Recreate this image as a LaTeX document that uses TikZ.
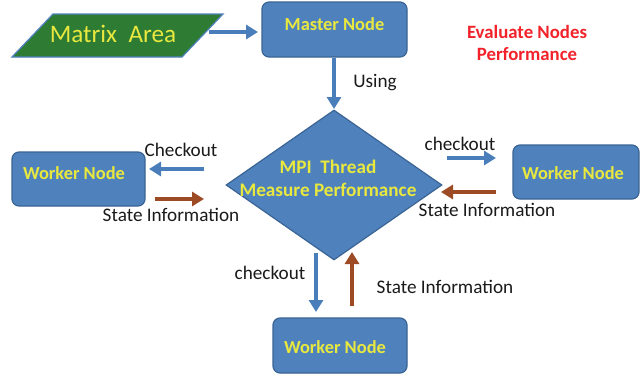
\documentclass[tikz,border=0pt]{standalone}
\usepackage{fontspec}
\setmainfont{Carlito}
\usetikzlibrary{arrows.meta,shapes.geometric}

\definecolor{boxblue}{HTML}{4F81BD}
\definecolor{boxedge}{HTML}{3A6494}
\definecolor{flowblue}{HTML}{4A7EBB}
\definecolor{flowbrown}{HTML}{9C4B25}
\definecolor{areagreen}{HTML}{2E7B34}
\definecolor{nodeyellow}{HTML}{E8E83E}
\definecolor{titlered}{HTML}{F2222A}
\definecolor{labelgray}{HTML}{1A1A1A}

\begin{document}
\begin{tikzpicture}[x=1pt,y=-1pt,
  box/.style={draw=boxedge, line width=1.2pt, fill=boxblue, rounded corners=7pt,
              inner sep=0pt},
  boxtext/.style={font=\fontsize{18.4}{21}\selectfont\bfseries, text=nodeyellow, inner sep=0pt},
  flow/.style={line width=4.6pt, -{Triangle[width=14pt,length=12pt]}},
  blueflow/.style={flow, draw=flowblue},
  brownflow/.style={flow, draw=flowbrown},
  lbl/.style={font=\fontsize{19.2}{22}\selectfont, text=labelgray, inner sep=0pt}]
\useasboundingbox (0,0) rectangle (641,378);

% input area (parallelogram)
\coordinate (pa1) at (53,14);
\coordinate (pa2) at (223,14);
\coordinate (pa3) at (182,57);
\coordinate (pa4) at (12,57);
\draw[fill=areagreen, draw=boxblue, line width=1.2pt, line join=miter]
  (pa1) -- (pa2) -- (pa3) -- (pa4) -- cycle;
\node[font=\fontsize{25.2}{29}\selectfont, text=nodeyellow, inner sep=0pt] (matrix) at (113,34) {Matrix\ \ Area};

% master node
\node[box, minimum width=145pt, minimum height=55pt] (master) at (334.5,29.5) {};
\node[boxtext] (mastertxt) at (334.5,24.5) {Master Node};

% title
\node[font=\fontsize{18.8}{21.5}\selectfont\bfseries, text=titlered, align=center, inner sep=0pt]
  (title) at (527,43) {Evaluate Nodes\\Performance};

% central decision node
\node[diamond, draw=boxedge, line width=1.2pt, fill=boxblue, inner sep=0pt,
      minimum width=216pt, minimum height=150pt] (mpi) at (334,185) {};
\node[boxtext, align=center, font=\fontsize{19.2}{23}\selectfont\bfseries] (mpitxt) at (328,178.5)
  {MPI\ \ Thread\\Measure Performance};

% worker nodes
\node[box, minimum width=133pt, minimum height=54pt] (wleft) at (78.5,179) {};
\node[boxtext] (wlefttxt) at (74,173.5) {Worker Node};
\node[box, minimum width=126pt, minimum height=54pt] (wright) at (576,172) {};
\node[boxtext] (wrighttxt) at (573,173.5) {Worker Node};
\node[box, minimum width=134pt, minimum height=55pt] (wbottom) at (340,345.5) {};
\node[boxtext] (wbottomtxt) at (335,347) {Worker Node};

% arrow end points
\coordinate (ma0) at (209,32);   \coordinate (ma1) at (258,32);
\coordinate (us0) at (334,58);   \coordinate (us1) at (334,109);
\coordinate (lc0) at (204,169);  \coordinate (lc1) at (149,169);
\coordinate (ls0) at (155,199);  \coordinate (ls1) at (204,199);
\coordinate (rc0) at (447,158);  \coordinate (rc1) at (496,158);
\coordinate (rs0) at (496,192);  \coordinate (rs1) at (441,192);
\coordinate (bc0) at (316,253);  \coordinate (bc1) at (316,312);
\coordinate (bs0) at (352,306);  \coordinate (bs1) at (352,252);

% connectors
\draw[blueflow] (ma0) -- (ma1);
\draw[blueflow] (us0) -- (us1);
\draw[blueflow] (lc0) -- (lc1);
\draw[brownflow] (ls0) -- (ls1);
\draw[blueflow] (rc0) -- (rc1);
\draw[brownflow] (rs0) -- (rs1);
\draw[blueflow] (bc0) -- (bc1);
\draw[brownflow] (bs0) -- (bs1);

% connector labels
\node[lbl] (using) at (375,83) {Using};
\node[lbl] (lcheck) at (181,150) {Checkout};
\node[lbl] (lstate) at (171,215) {State Information};
\node[lbl] (rcheck) at (460,144) {checkout};
\node[lbl] (rstate) at (487,210) {State Information};
\node[lbl] (bcheck) at (270,273) {checkout};
\node[lbl] (bstate) at (445,287) {State Information};
\end{tikzpicture}
\end{document}
